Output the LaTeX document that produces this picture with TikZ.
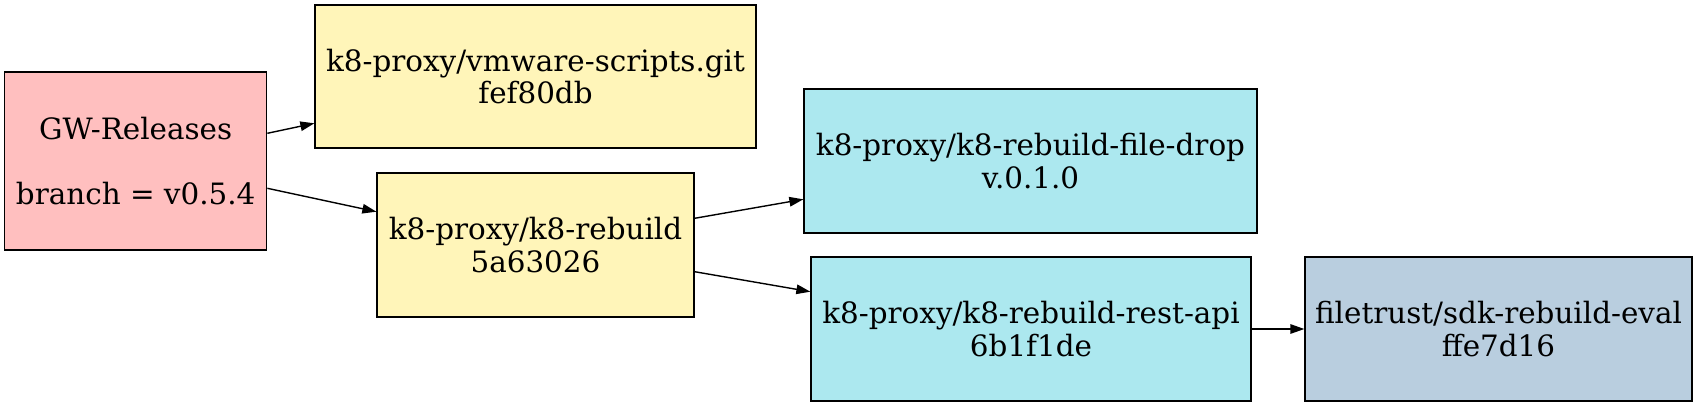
\documentclass[tikz,border=0pt]{standalone}
\usepackage{fontspec}
\setmainfont{DejaVu Serif}
\usetikzlibrary{arrows.meta}
\definecolor{gwpink}{HTML}{FFBFBF}
\definecolor{repoyellow}{HTML}{FFF5B9}
\definecolor{repocyan}{HTML}{ACE8EF}
\definecolor{repoblue}{HTML}{B9CEDF}
\begin{document}
\begin{tikzpicture}[x=1pt,y=-1pt,
  box/.style={draw=black, line width=1.3pt, inner sep=0pt, align=center,
              font=\fontsize{29.4}{32.5}\selectfont},
  arr/.style={-{Triangle[length=14pt,width=9.5pt]}, line width=1.4pt}]
\useasboundingbox (0,0) rectangle (1697,407);
\node[box, fill=gwpink, minimum width=262pt, minimum height=178pt] (gw) at (135.7,160.9)
  {GW-Releases\\\mbox{}\\branch = v0.5.4};
\node[box, fill=repoyellow, minimum width=441pt, minimum height=143pt] (vm) at (535.5,76.5)
  {k8-proxy/vmware-scripts.git\\fef80db};
\node[box, fill=repoyellow, minimum width=317pt, minimum height=144pt] (kr) at (535.5,245)
  {k8-proxy/k8-rebuild\\5a63026};
\node[box, fill=repocyan, minimum width=453pt, minimum height=144pt] (fd) at (1030.5,161)
  {k8-proxy/k8-rebuild-file-drop\\v.0.1.0};
\node[box, fill=repocyan, minimum width=440pt, minimum height=144pt] (ra) at (1031,329)
  {k8-proxy/k8-rebuild-rest-api\\6b1f1de};
\node[box, fill=repoblue, minimum width=387pt, minimum height=144pt] (ft) at (1498.5,329)
  {filetrust/sdk-rebuild-eval\\ffe7d16};
\draw[arr] ([yshift=27.6pt]gw.east) -- ([yshift=-46.8pt]vm.west);
\draw[arr] ([yshift=-27.4pt]gw.east) -- ([yshift=33.3pt]kr.west);
\draw[arr] ([yshift=26.7pt]kr.east) -- ([yshift=-38.3pt]fd.west);
\draw[arr] ([yshift=-26.7pt]kr.east) -- ([yshift=37.3pt]ra.west);
\draw[arr] (ra.east) -- (ft.west);
\end{tikzpicture}
\end{document}
